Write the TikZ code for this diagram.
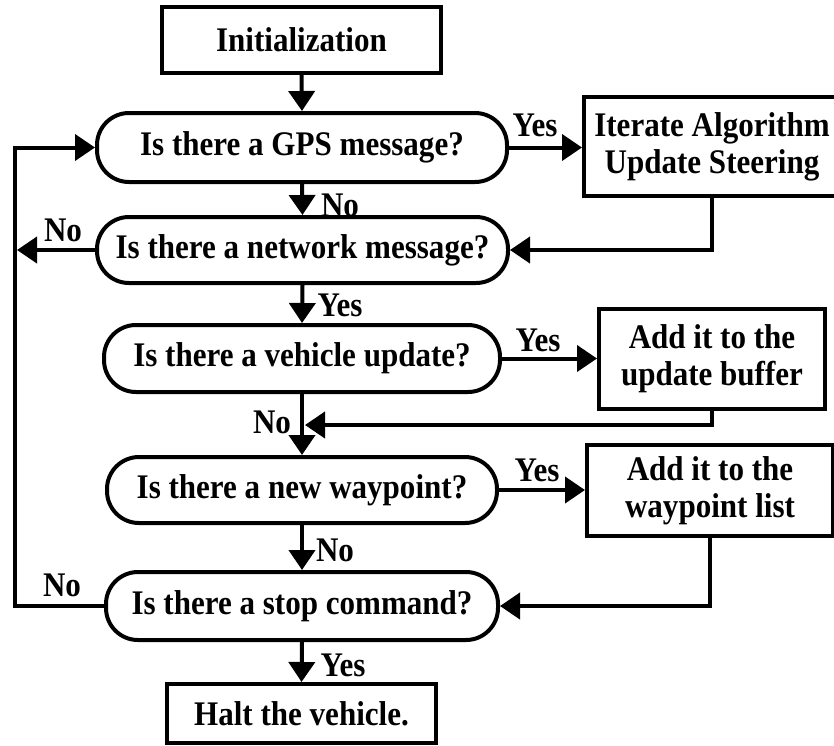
\documentclass[tikz,border=0pt]{standalone}
\usepackage{fontspec}
\setmainfont{Liberation Serif}[FakeStretch=0.9]
\usetikzlibrary{arrows.meta}
\tikzset{
  base/.style={draw=black, line width=4pt, inner sep=0pt, align=center,
    font=\fontsize{34.5}{37}\selectfont\bfseries},
  procbox/.style={base, rectangle},
  decision/.style={base, rectangle, rounded corners=32pt},
  lbl/.style={inner sep=0pt, font=\fontsize{34.5}{37}\selectfont\bfseries},
  arr/.style={line width=4pt, -{Triangle[length=20pt,width=26pt]}},
  ln/.style={line width=4pt}
}
\begin{document}
\begin{tikzpicture}[x=1pt,y=-1pt]
\useasboundingbox (0,0) rectangle (834,745);
\clip (0,0) rectangle (834,745);
% main column
\node[procbox, minimum width=279pt, minimum height=66pt] (init) at (301.5,40) {Initialization};
\node[decision, minimum width=410pt, minimum height=69pt] (gps) at (302,147.5) {Is there a GPS message?};
\node[decision, minimum width=411pt, minimum height=66pt] (net) at (302.5,250) {Is there a network message?};
\node[decision, minimum width=396pt, minimum height=67pt] (veh) at (302,358.5) {Is there a vehicle update?};
\node[decision, minimum width=390pt, minimum height=66pt] (wp) at (302,490) {Is there a new waypoint?};
\node[decision, minimum width=392pt, minimum height=68pt] (stop) at (302,606) {Is there a stop command?};
\node[procbox, minimum width=269pt, minimum height=59pt] (halt) at (301.5,713.5) {Halt the vehicle.};
% right column
\node[procbox, minimum width=256pt, minimum height=99pt] (iter) at (712,146.5) {Iterate Algorithm\\Update Steering};
\node[procbox, minimum width=226pt, minimum height=100pt] (upd) at (712,359) {Add it to the\\update buffer};
\node[procbox, minimum width=246pt, minimum height=91pt] (wpl) at (710,490.5) {Add it to the\\waypoint list};
% coordinates
\coordinate (lb) at (15,606);
\coordinate (lt) at (15,147.5);
\coordinate (lnet) at (17,250);
\coordinate (merge) at (305,425);
% vertical flow
\draw[arr] (init.south) -- (gps.north);
\draw[arr] (gps.south) -- (net.north);
\draw[arr] (net.south) -- (veh.north);
\draw[arr] (veh.south) -- (wp.north);
\draw[arr] (wp.south) -- (stop.north);
\draw[arr] (stop.south) -- (halt.north);
% yes branches
\draw[arr] (gps.east) -- (gps.east -| iter.west);
\draw[arr] (veh.east) -- (veh.east -| upd.west);
\draw[arr] (wp.east) -- (wp.east -| wpl.west);
% returns
\draw[arr] (iter.south) |- (net.east);
\draw[arr] (upd.south) |- (merge);
\draw[arr] (wpl.south) |- (stop.east);
% loop back
\draw[arr] (net.west) -- (lnet);
\draw[arr] (stop.west) -- (lb) -- (lt) -- (gps.west);
% labels
\node[lbl] (y1) at (535,125) {Yes};
\node[lbl] (n1) at (340,205) {No};
\node[lbl] (n2) at (63,230) {No};
\node[lbl] (y2) at (340,305) {Yes};
\node[lbl] (y3) at (538,340) {Yes};
\node[lbl] (n3) at (272,422) {No};
\node[lbl] (y4) at (537,470) {Yes};
\node[lbl] (n4) at (335,550) {No};
\node[lbl] (n5) at (62,585) {No};
\node[lbl] (y5) at (343,665) {Yes};
\end{tikzpicture}
\end{document}
